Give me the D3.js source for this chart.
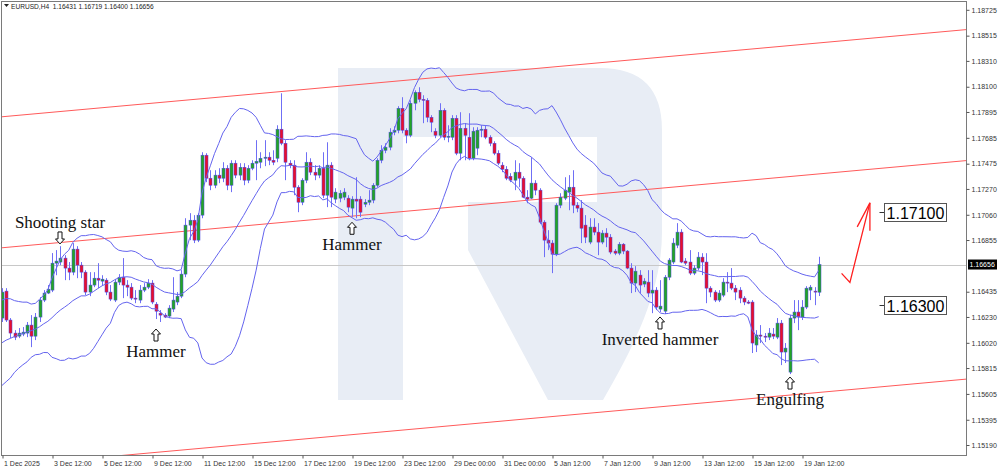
<!DOCTYPE html>
<html><head><meta charset="utf-8">
<script src="https://cdn.jsdelivr.net/npm/d3@7"></script>
<style>
html,body{margin:0;padding:0;background:#fff;}
svg{display:block;}
</style></head><body>
<svg id="chart" width="1000" height="468"></svg>
<script>
// ---------------- DATA ----------------
const symbolTitle = "EURUSD,H4";
const lastBarText = ["1.16431", "1.16719", "1.16400", "1.16656"];
const currentPrice = 1.16656;

const dateLabels = ["1 Dec 2025","3 Dec 12:00","5 Dec 12:00","9 Dec 12:00","11 Dec 12:00","15 Dec 12:00","17 Dec 12:00","19 Dec 12:00","23 Dec 12:00","29 Dec 00:00","31 Dec 00:00","5 Jan 12:00","7 Jan 12:00","9 Jan 12:00","13 Jan 12:00","15 Jan 12:00","19 Jan 12:00"];
const dateLabelBars = [0,12,24,36,48,60,72,84,96,108,120,132,144,156,168,180,192];

const priceTicks = [1.18725,1.18515,1.18310,1.18100,1.17895,1.17685,1.17475,1.17270,1.17060,1.16855,1.16435,1.16230,1.16020,1.15815,1.15605,1.15395,1.15190];

// estimated closes of the 19 H4 bars before 1 Dec (only seen through where the bands start)
const warmupCloses = [1.15782,1.15815,1.15758,1.15839,1.15880,1.15920,1.15864,1.15961,1.16002,1.15945,1.16042,1.16083,1.16026,1.16123,1.16164,1.16107,1.16205,1.16245,1.16221];

const opens = [
1.16221,1.16440,1.16205,1.16099,1.16074,1.16091,1.16099,1.16164,1.16074,1.16229,
1.16367,1.16424,1.16448,1.16667,1.16676,1.16708,1.16627,1.16594,1.16781,1.16651,
1.16594,1.16432,1.16489,1.16545,1.16521,1.16529,1.16432,1.16367,1.16513,1.16553,
1.16489,1.16472,1.16383,1.16367,1.16448,1.16472,1.16505,1.16334,1.16261,1.16245,
1.16237,1.16294,1.16351,1.16399,1.16578,1.16976,1.17016,1.16854,1.17057,1.17544,
1.17357,1.17300,1.17382,1.17357,1.17438,1.17300,1.17479,1.17382,1.17446,1.17341,
1.17438,1.17479,1.17487,1.17519,1.17528,1.17503,1.17519,1.17755,1.17641,1.17479,
1.17463,1.17284,1.17162,1.17341,1.17487,1.17406,1.17382,1.17438,1.17219,1.17463,
1.17187,1.17195,1.17203,1.17195,1.17114,1.17187,1.17187,1.17146,1.17162,1.17179,
1.17300,1.17503,1.17584,1.17609,1.17731,1.17747,1.17925,1.17747,1.17706,1.17966,
1.18055,1.17998,1.17990,1.17852,1.17739,1.17706,1.17909,1.17690,1.17690,1.17844,
1.17560,1.17763,1.17690,1.17519,1.17601,1.17747,1.17755,1.17690,1.17641,1.17560,
1.17463,1.17430,1.17373,1.17341,1.17406,1.17357,1.17203,1.17195,1.17317,1.17260,
1.17000,1.16854,1.16830,1.16740,1.17138,1.17195,1.17244,1.17284,1.17138,1.17114,
1.16976,1.16838,1.16960,1.16919,1.16838,1.16911,1.16878,1.16765,1.16748,1.16821,
1.16765,1.16627,1.16505,1.16570,1.16497,1.16513,1.16424,1.16448,1.16294,1.16277,
1.16553,1.16676,1.16813,1.16919,1.16684,1.16676,1.16586,1.16627,1.16716,1.16676,
1.16464,1.16432,1.16367,1.16407,1.16513,1.16505,1.16464,1.16448,1.16383,1.16351,
1.16351,1.16002,1.16083,1.16074,1.16066,1.16091,1.16066,1.16180,1.15945,1.15782,
1.16221,1.16270,1.16229,1.16310,1.16448,1.16440,1.16431];

const highs = [
1.16464,1.16464,1.16221,1.16123,1.16140,1.16148,1.16189,1.16245,1.16262,1.16391,
1.16448,1.16489,1.16749,1.16773,1.16805,1.16732,1.16676,1.16830,1.16805,1.16676,
1.16610,1.16594,1.16594,1.16667,1.16569,1.16545,1.16489,1.16537,1.16578,1.16708,
1.16529,1.16505,1.16448,1.16489,1.16505,1.16537,1.16529,1.16351,1.16286,1.16261,
1.16326,1.16553,1.16432,1.16610,1.17032,1.17073,1.17057,1.17073,1.17568,1.17560,
1.17422,1.17422,1.17438,1.17487,1.17463,1.17503,1.17503,1.17479,1.17479,1.17463,
1.17503,1.17666,1.17568,1.17666,1.17568,1.17584,1.17787,1.18047,1.17666,1.17503,
1.17503,1.17300,1.17357,1.17568,1.17519,1.17463,1.17463,1.17568,1.17649,1.17487,
1.17276,1.17260,1.17276,1.17219,1.17211,1.17365,1.17211,1.17187,1.17260,1.17317,
1.17519,1.17625,1.17641,1.17763,1.17779,1.17942,1.18015,1.17763,1.17990,1.18071,
1.18096,1.18031,1.18007,1.17869,1.17763,1.17966,1.17925,1.17787,1.17869,1.17869,
1.17893,1.17804,1.17885,1.17771,1.17771,1.17787,1.17787,1.17706,1.17657,1.17584,
1.17487,1.17455,1.17398,1.17503,1.17479,1.17373,1.17260,1.17528,1.17341,1.17276,
1.17016,1.16935,1.16854,1.17154,1.17235,1.17365,1.17382,1.17422,1.17162,1.17179,
1.17057,1.17032,1.17032,1.16992,1.16935,1.16951,1.16903,1.16781,1.16838,1.16830,
1.16773,1.16667,1.16643,1.16610,1.16545,1.16610,1.16610,1.16472,1.16529,1.16570,
1.16708,1.16870,1.16992,1.16943,1.16708,1.16773,1.16651,1.16757,1.16748,1.16748,
1.16480,1.16448,1.16448,1.16545,1.16594,1.16627,1.16489,1.16472,1.16399,1.16367,
1.16367,1.16123,1.16164,1.16099,1.16140,1.16140,1.16221,1.16205,1.16018,1.16245,
1.16367,1.16367,1.16367,1.16480,1.16489,1.16472,1.16719];

const lows = [
1.16189,1.16189,1.16058,1.16042,1.16058,1.16074,1.16066,1.15985,1.16042,1.16189,
1.16351,1.16416,1.16432,1.16569,1.16651,1.16529,1.16529,1.16569,1.16545,1.16545,
1.16407,1.16399,1.16472,1.16464,1.16489,1.16407,1.16359,1.16351,1.16489,1.16383,
1.16399,1.16367,1.16342,1.16342,1.16432,1.16456,1.16334,1.16213,1.16189,1.16221,
1.16221,1.16270,1.16326,1.16383,1.16553,1.16854,1.16830,1.16838,1.17032,1.17325,
1.17260,1.17276,1.17317,1.17325,1.17260,1.17244,1.17357,1.17341,1.17300,1.17317,
1.17422,1.17341,1.17438,1.17455,1.17463,1.17463,1.17487,1.17625,1.17341,1.17438,
1.17219,1.17081,1.17138,1.17317,1.17382,1.17341,1.17357,1.17195,1.17122,1.17122,
1.17154,1.17162,1.17179,1.17081,1.17041,1.17032,1.17041,1.17122,1.17138,1.17154,
1.17284,1.17479,1.17560,1.17584,1.17706,1.17722,1.17722,1.17641,1.17690,1.17909,
1.17974,1.17804,1.17812,1.17731,1.17682,1.17690,1.17666,1.17649,1.17666,1.17544,
1.17503,1.17503,1.17503,1.17503,1.17544,1.17690,1.17674,1.17617,1.17544,1.17463,
1.17406,1.17341,1.17325,1.17260,1.17284,1.17195,1.17154,1.17187,1.17219,1.16984,
1.16716,1.16773,1.16586,1.16724,1.17114,1.17179,1.17097,1.17073,1.17081,1.16830,
1.16830,1.16821,1.16894,1.16732,1.16821,1.16797,1.16740,1.16732,1.16732,1.16740,
1.16618,1.16424,1.16432,1.16424,1.16472,1.16391,1.16261,1.16286,1.16270,1.16253,
1.16529,1.16659,1.16789,1.16667,1.16651,1.16570,1.16570,1.16610,1.16570,1.16342,
1.16391,1.16351,1.16351,1.16391,1.16432,1.16448,1.16367,1.16342,1.16326,1.16334,
1.15937,1.15945,1.16018,1.16026,1.16042,1.16050,1.16050,1.15839,1.15856,1.15766,
1.16180,1.16123,1.16205,1.16294,1.16367,1.16326,1.16400];

const closes = [
1.16432,1.16205,1.16099,1.16066,1.16099,1.16107,1.16164,1.16074,1.16229,1.16367,
1.16424,1.16456,1.16667,1.16684,1.16708,1.16627,1.16594,1.16781,1.16651,1.16594,
1.16432,1.16489,1.16545,1.16529,1.16537,1.16432,1.16375,1.16513,1.16553,1.16489,
1.16472,1.16383,1.16375,1.16448,1.16472,1.16505,1.16351,1.16277,1.16245,1.16229,
1.16302,1.16367,1.16399,1.16578,1.16976,1.17016,1.16854,1.17057,1.17544,1.17357,
1.17300,1.17382,1.17357,1.17438,1.17300,1.17479,1.17382,1.17446,1.17341,1.17438,
1.17479,1.17495,1.17519,1.17528,1.17503,1.17487,1.17755,1.17641,1.17487,1.17463,
1.17284,1.17162,1.17341,1.17487,1.17406,1.17382,1.17438,1.17219,1.17463,1.17203,
1.17244,1.17235,1.17244,1.17122,1.17187,1.17171,1.17081,1.17162,1.17179,1.17300,
1.17503,1.17584,1.17609,1.17731,1.17747,1.17925,1.17747,1.17706,1.17966,1.18055,
1.17998,1.17990,1.17852,1.17812,1.17706,1.17909,1.17690,1.17698,1.17844,1.17560,
1.17763,1.17706,1.17519,1.17739,1.17747,1.17755,1.17690,1.17641,1.17560,1.17479,
1.17430,1.17357,1.17341,1.17406,1.17357,1.17203,1.17187,1.17317,1.17260,1.17000,
1.16854,1.16830,1.16740,1.17138,1.17203,1.17260,1.17284,1.17138,1.17114,1.16951,
1.16878,1.16960,1.16919,1.16838,1.16911,1.16878,1.16757,1.16748,1.16821,1.16765,
1.16627,1.16505,1.16602,1.16489,1.16521,1.16424,1.16448,1.16310,1.16318,1.16553,
1.16692,1.16830,1.16919,1.16676,1.16667,1.16586,1.16627,1.16716,1.16676,1.16464,
1.16432,1.16367,1.16424,1.16513,1.16505,1.16464,1.16432,1.16383,1.16351,1.16342,
1.16018,1.16083,1.16074,1.16066,1.16099,1.16074,1.16180,1.15945,1.15977,1.16221,
1.16270,1.16229,1.16310,1.16464,1.16472,1.16432,1.16656];

const bandPeriod = 20;
const bandDeviations = 2;

// trend channel (two anchor points each: [bar, price])
const channelTop    = [[0, 1.17856], [200, 1.18468]];
const channelMiddle = [[0, 1.16792], [200, 1.17404]];
const channelBottom = [[0, 1.15017], [200, 1.15629]];

// forecast arrow
const forecastBars   = [201.5, 203.5, 208.3];
const forecastPrices = [1.16584, 1.16511, 1.17157];

// target price labels
const targetTexts   = ["1.17100", "1.16300"];
const targetAnchors = [1.17082, 1.16327];
const targetBar = 210.5;

// candlestick pattern notes
const patternNames  = ["Shooting star", "Hammer", "Hammer", "Inverted hammer", "Engulfing"];
const patternBars   = [14, 37, 84, 158, 189];
const patternTips   = [1.16823, 1.16132, 1.16999, 1.16230, 1.15742];
const patternDirs   = ["down", "up", "up", "up", "up"];

// ---------------- DRAW ----------------
const svg = d3.select("#chart");
const plot = {left: 1.5, top: 1.5, right: 966.5, bottom: 455.5};
const N = closes.length;

const x = d3.scaleLinear().domain([0, 192]).range([2, 802]);
const y = d3.scaleLinear().domain([1.15190, 1.18725]).range([445, 9.8]);
const px = i => Math.round(x(i)) + 0.5;

svg.append("rect").attr("width", 1000).attr("height", 468).attr("fill", "#fff");

svg.append("defs").append("clipPath").attr("id", "plotClip").append("rect")
  .attr("x", plot.left).attr("y", plot.top)
  .attr("width", plot.right - plot.left).attr("height", plot.bottom - plot.top);

const g = svg.append("g").attr("clip-path", "url(#plotClip)");

// watermark logo (decoration)
const watermark = "M338,68 H600 Q662,68 662,130 V232 C662,290 635,345 603,400 H548 L468,250 V202 H597 V137 H403 V400 H338 Z";
g.append("path").attr("d", watermark).attr("fill", "#e8edf5");

// current price line
g.append("line")
  .attr("x1", plot.left).attr("x2", plot.right)
  .attr("y1", Math.round(y(currentPrice)) + 0.5).attr("y2", Math.round(y(currentPrice)) + 0.5)
  .attr("stroke", "#c8c8c8").attr("stroke-width", 1);

// channel lines
const bL = x.invert(0), bR = x.invert(970);
function chAt(ch, b) { return ch[0][1] + (ch[1][1] - ch[0][1]) * (b - ch[0][0]) / (ch[1][0] - ch[0][0]); }
[channelTop, channelMiddle, channelBottom].forEach(ch => {
  g.append("line")
    .attr("x1", x(bL)).attr("y1", y(chAt(ch, bL)))
    .attr("x2", x(bR)).attr("y2", y(chAt(ch, bR)))
    .attr("stroke", "#ff5a5a").attr("stroke-width", 1);
});

// candles
const idx = d3.range(N);
g.append("g").selectAll("line").data(idx).join("line")
  .attr("x1", px).attr("x2", px)
  .attr("y1", i => y(highs[i])).attr("y2", i => y(lows[i]))
  .attr("stroke", "#6f6ff5").attr("stroke-width", 1);
g.append("g").selectAll("rect").data(idx).join("rect")
  .attr("x", i => px(i) - 1.5).attr("width", 3)
  .attr("y", i => y(Math.max(opens[i], closes[i])))
  .attr("height", i => Math.max(1, Math.abs(y(opens[i]) - y(closes[i]))))
  .attr("fill", i => closes[i] >= opens[i] ? "#25a525" : "#e8102e")
  .attr("stroke", "#4a4ae0").attr("stroke-width", 0.5);

// Bollinger bands
const allCloses = warmupCloses.concat(closes);
const W0 = warmupCloses.length;
const bands = idx.map(i => {
  const win = allCloses.slice(i + W0 - (bandPeriod - 1), i + W0 + 1);
  const m = d3.mean(win);
  const sd = Math.sqrt(d3.mean(win, v => (v - m) * (v - m)));
  return {i, mid: m, up: m + bandDeviations * sd, lo: m - bandDeviations * sd};
});
["up", "mid", "lo"].forEach(k => {
  g.append("path").datum(bands)
    .attr("d", d3.line().x(d => x(d.i)).y(d => y(d[k])))
    .attr("fill", "none").attr("stroke", "#6464ee").attr("stroke-width", 1);
});

// pattern arrows and labels
patternNames.forEach((name, k) => {
  const cx = px(patternBars[k]) - 0.5;
  const ty = y(patternTips[k]);
  const s = patternDirs[k] === "up" ? 1 : -1;
  const path = `M${cx},${ty} L${cx + 4.5},${ty + 5 * s} L${cx + 2},${ty + 5 * s} L${cx + 2},${ty + 12 * s} L${cx - 2},${ty + 12 * s} L${cx - 2},${ty + 5 * s} L${cx - 4.5},${ty + 5 * s} Z`;
  g.append("path").attr("d", path).attr("fill", "#fff").attr("stroke", "#111").attr("stroke-width", 1);
  g.append("text")
    .attr("x", cx).attr("y", s > 0 ? ty + 28 : ty - 16)
    .attr("text-anchor", "middle")
    .attr("font-family", "'Liberation Serif', 'Times New Roman', serif")
    .attr("font-size", 17).attr("fill", "#111")
    .text(name);
});

// forecast arrow
const fpts = forecastBars.map((b, k) => [x(b), y(forecastPrices[k])]);
g.append("path").attr("d", d3.line()(fpts)).attr("fill", "none")
  .attr("stroke", "#ff2020").attr("stroke-width", 1.3);
const tip = fpts[fpts.length - 1];
g.append("path").attr("d", `M${tip[0] - 12.7},${tip[1] + 24} L${tip[0]},${tip[1]} L${tip[0]},${tip[1] + 28}`)
  .attr("fill", "none").attr("stroke", "#ff2020").attr("stroke-width", 1.3);

// target labels
targetTexts.forEach((t, k) => {
  const ly = Math.round(y(targetAnchors[k])) + 0.5;
  const lx = Math.round(x(targetBar)) + 0.5;
  g.append("line").attr("x1", lx).attr("x2", lx + 5).attr("y1", ly).attr("y2", ly)
    .attr("stroke", "#333").attr("stroke-width", 1);
  g.append("rect").attr("x", lx + 5).attr("y", ly - 9).attr("width", 62).attr("height", 18)
    .attr("fill", "#fff").attr("stroke", "#555").attr("stroke-width", 1);
  g.append("text").attr("x", lx + 36).attr("y", ly + 6).attr("text-anchor", "middle")
    .attr("font-family", "'Liberation Sans', Arial, sans-serif").attr("font-size", 16).attr("fill", "#000")
    .text(t);
});

// frame
svg.append("rect").attr("x", plot.left).attr("y", plot.top)
  .attr("width", plot.right - plot.left).attr("height", plot.bottom - plot.top)
  .attr("fill", "none").attr("stroke", "#7a7a7a").attr("stroke-width", 1);

// right price axis
const yAxis = d3.axisRight(y).tickValues(priceTicks).tickSize(3).tickPadding(2)
  .tickFormat(d3.format(".5f"));
const gy = svg.append("g").attr("transform", `translate(${plot.right},0)`).call(yAxis);
gy.select(".domain").remove();
gy.selectAll(".tick line").attr("stroke", "#555");
gy.selectAll(".tick text").attr("font-family", "'Liberation Sans', Arial, sans-serif")
  .attr("font-size", 7).attr("fill", "#333");

// current price tag
const cy = y(currentPrice);
svg.append("rect").attr("x", 968).attr("y", cy - 5).attr("width", 29).attr("height", 10).attr("fill", "#000");
svg.append("text").attr("x", 969.5).attr("y", cy + 2.5)
  .attr("font-family", "'Liberation Sans', Arial, sans-serif").attr("font-size", 7).attr("fill", "#fff")
  .text(d3.format(".5f")(currentPrice));

// bottom time axis
const xAxis = d3.axisBottom(x).tickValues(dateLabelBars).tickSize(3).tickPadding(2)
  .tickFormat((d, k) => dateLabels[k]);
const gx = svg.append("g").attr("transform", `translate(0.5,${plot.bottom})`).call(xAxis);
gx.select(".domain").remove();
gx.selectAll(".tick line").attr("stroke", "#555");
gx.selectAll(".tick text").attr("text-anchor", "start").attr("dx", 1).attr("dy", 0)
  .attr("y", 10)
  .attr("font-family", "'Liberation Sans', Arial, sans-serif")
  .attr("font-size", 7).attr("fill", "#333");

// header
svg.append("path").attr("d", "M4,4 L9,4 L6.5,7 Z").attr("fill", "#222");
svg.append("text").attr("x", 11).attr("y", 8.5)
  .attr("font-family", "'Liberation Sans', Arial, sans-serif").attr("font-size", 6.6).attr("fill", "#222")
  .attr("xml:space", "preserve").style("white-space", "pre")
  .text(symbolTitle + "  " + lastBarText.join(" "));
</script>
</body></html>
